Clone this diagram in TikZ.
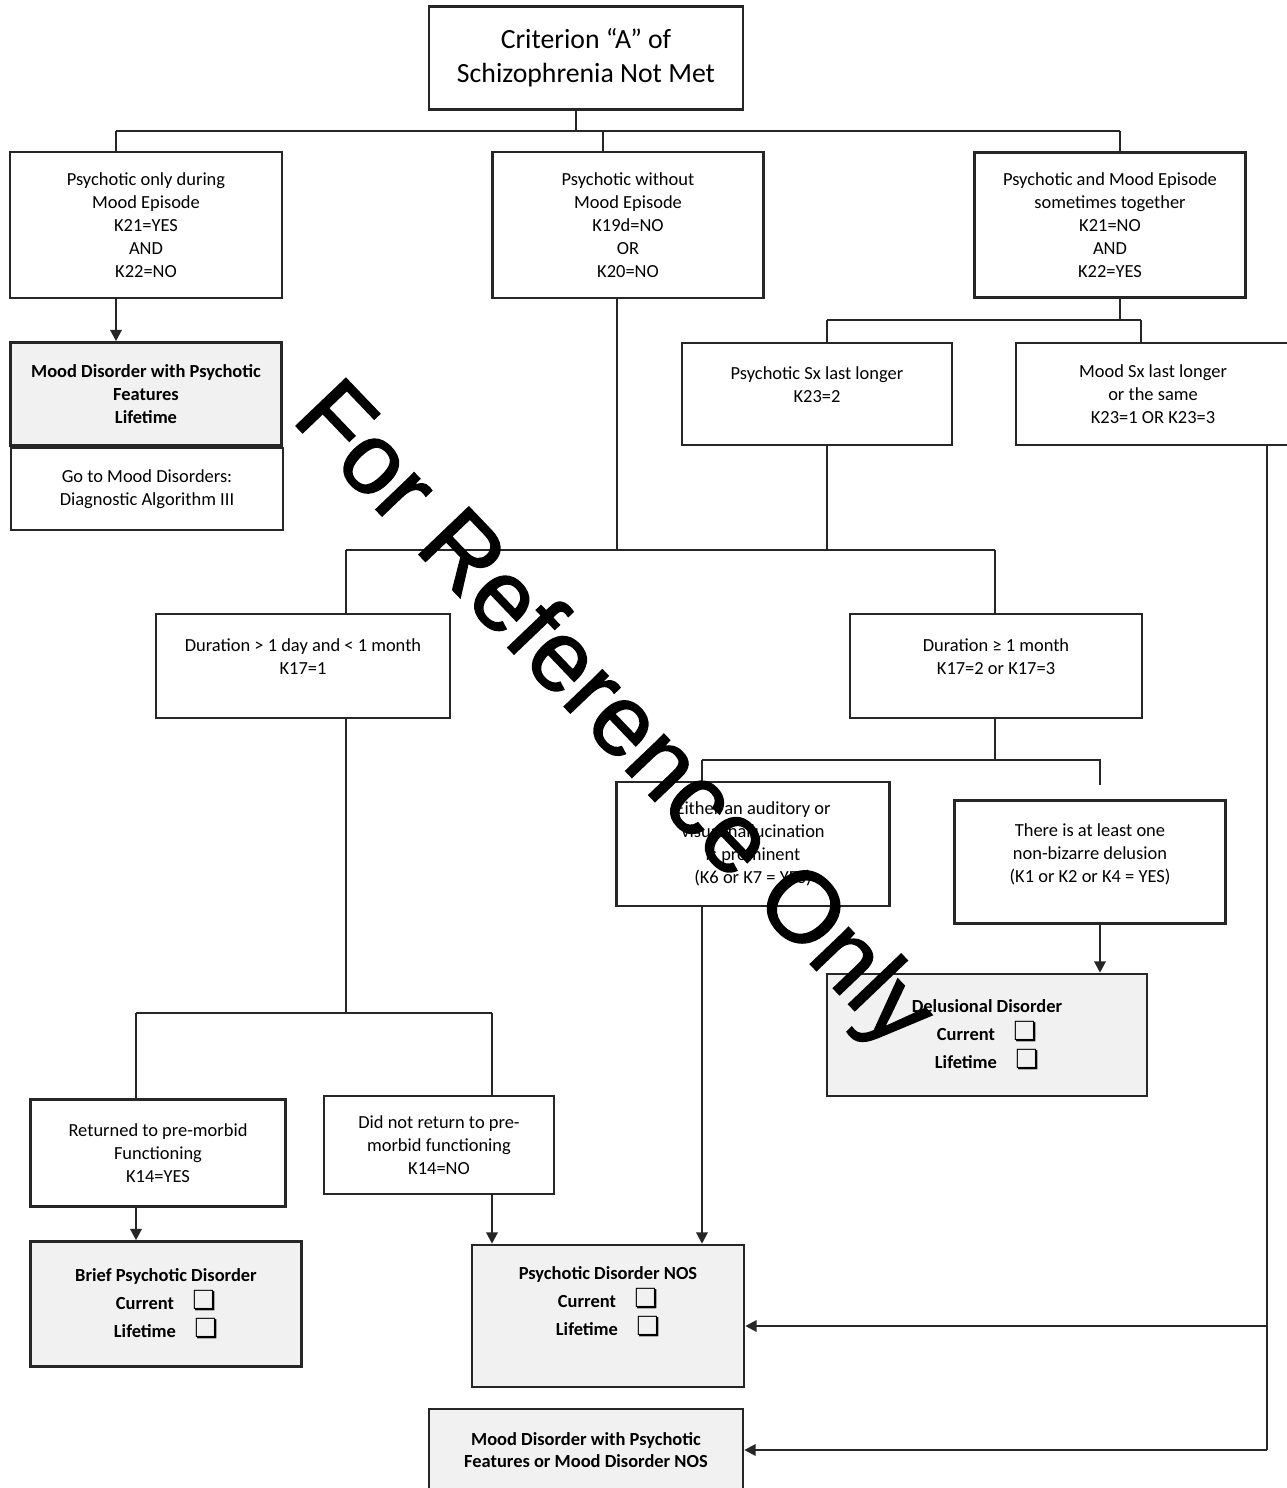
\documentclass[tikz,border=0pt]{standalone}
\usepackage{fontspec}
\setmainfont{Carlito}
\newfontfamily\symfont{DejaVu Sans}
\newfontfamily\wmfont[FakeBold=1.5]{Liberation Sans}
\usepackage{xcolor}
\usetikzlibrary{arrows.meta}
\definecolor{boxgray}{HTML}{F1F1F1}
\newcommand{\chkbox}{{\symfont\fontsize{15}{13}\selectfont ❏}}

\begin{document}
\begin{tikzpicture}[x=0.02cm, y=-0.02cm,
	box/.style={draw=black!85, line width=1.5pt, align=center, inner sep=2pt,
		font=\fontsize{10.5}{13}\selectfont},
	result/.style={box, fill=boxgray, font=\fontsize{10.5}{13}\selectfont\bfseries},
	link/.style={draw=black!85, line width=1.3pt},
	arr/.style={link, -{Triangle[width=6.5pt,length=6.5pt]}}]
	\path[use as bounding box, fill=white] (0,0) rectangle (1286,1488);

	% boxes
	\node[box, minimum width=6.28cm, minimum height=2.06cm, font=\fontsize{15.8}{19.3}\selectfont]
		(crit) at (586,58) {Criterion “A” of\\Schizophrenia Not Met};
	\node[box, minimum width=5.44cm, minimum height=2.92cm]
		(moodonly) at (146,225) {Psychotic only during\\Mood Episode\\K21=YES\\AND\\K22=NO};
	\node[box, minimum width=5.42cm, minimum height=2.92cm]
		(nomood) at (628,225) {Psychotic without\\Mood Episode\\K19d=NO\\OR\\K20=NO};
	\node[box, minimum width=5.42cm, minimum height=2.90cm]
		(together) at (1110,225) {Psychotic and Mood Episode\\sometimes together\\K21=NO\\AND\\K22=YES};
	\node[result, minimum width=5.42cm, minimum height=2.06cm]
		(mdpf) at (146,394) {Mood Disorder with Psychotic\\Features\\Lifetime};
	\node[box, minimum width=5.44cm, minimum height=1.64cm]
		(goto) at (147,489) {Go to Mood Disorders:\\Diagnostic Algorithm III};
	\node[box, minimum width=5.40cm, minimum height=2.04cm, text depth=11pt]
		(psylonger) at (817,394) {Psychotic Sx last longer\\K23=2};
	\node[box, minimum width=5.48cm, minimum height=2.04cm]
		(moodlonger) at (1153,394) {Mood Sx last longer\\or the same\\K23=1 OR K23=3};
	\node[box, minimum width=5.88cm, minimum height=2.08cm, text depth=11pt]
		(short) at (303,666) {Duration > 1 day and < 1 month\\K17=1};
	\node[box, minimum width=5.84cm, minimum height=2.08cm, text depth=11pt]
		(long) at (996,666) {Duration ≥ 1 month\\K17=2 or K17=3};
	\node[box, minimum width=5.46cm, minimum height=2.48cm]
		(halluc) at (753,844) {Either an auditory or\\visual hallucination\\is prominent\\(K6 or K7 = YES)};
	\node[box, minimum width=5.42cm, minimum height=2.46cm, text depth=10pt]
		(delus) at (1090,862) {There is at least one\\non-bizarre delusion\\(K1 or K2 or K4 = YES)};
	\node[result, minimum width=6.40cm, minimum height=2.44cm]
		(deldis) at (987,1035) {Delusional Disorder\\[3pt]Current\quad\chkbox\\[3pt]Lifetime\quad\chkbox};
	\node[box, minimum width=5.10cm, minimum height=2.14cm]
		(returned) at (158,1153) {Returned to pre-morbid\\Functioning\\K14=YES};
	\node[box, minimum width=4.60cm, minimum height=1.96cm]
		(notret) at (439,1145) {Did not return to pre-\\morbid functioning\\K14=NO};
	\node[result, minimum width=5.42cm, minimum height=2.50cm]
		(brief) at (166,1304) {Brief Psychotic Disorder\\[3pt]Current\quad\chkbox\\[3pt]Lifetime\quad\chkbox};
	\node[result, minimum width=5.44cm, minimum height=2.84cm, text depth=17pt]
		(nos) at (608,1316) {Psychotic Disorder NOS\\[3pt]Current\quad\chkbox\\[3pt]Lifetime\quad\chkbox};
	\node[result, minimum width=6.28cm, minimum height=1.64cm]
		(moodnos) at (586,1450) {Mood Disorder with Psychotic\\Features or Mood Disorder NOS};

	% top split
	\coordinate (j1) at (576,131);
	\coordinate (j1l) at (116,131);
	\coordinate (j1m) at (603,131);
	\coordinate (j1r) at (1120,131);
	\draw[link] (crit.south -| j1) -- (j1);
	\draw[link] (j1l) -- (j1r);
	\draw[link] (j1l) -- (j1l |- moodonly.north);
	\draw[link] (j1m) -- (j1m |- nomood.north);
	\draw[link] (j1r) -- (j1r |- together.north);
	\draw[arr] (moodonly.south -| j1l) -- (mdpf.north -| j1l);

	% mood and psychotic together
	\coordinate (j2l) at (827,320);
	\coordinate (j2r) at (1141,320);
	\draw[link] (together.south -| j1r) -- (j1r |- j2l);
	\draw[link] (j2l) -- (j2r);
	\draw[link] (j2l) -- (j2l |- psylonger.north);
	\draw[link] (j2r) -- (j2r |- moodlonger.north);

	% duration split
	\coordinate (j3l) at (346,550);
	\coordinate (j3b) at (617,550);
	\coordinate (j3r) at (995,550);
	\draw[link] (j3b |- nomood.south) -- (j3b);
	\draw[link] (psylonger.south -| j2l) -- (j2l |- j3l);
	\draw[link] (j3l) -- (j3r);
	\draw[link] (j3l) -- (j3l |- short.north);
	\draw[link] (j3r) -- (j3r |- long.north);

	% one month or more
	\coordinate (j4l) at (702,760);
	\coordinate (j4r) at (1100,760);
	\coordinate (j4e) at (1100,785);
	\draw[link] (long.south -| j3r) -- (j3r |- j4l);
	\draw[link] (j4l) -- (j4r) -- (j4e);
	\draw[link] (j4l) -- (j4l |- halluc.north);
	\draw[arr] (delus.south -| j4r) -- (deldis.north -| j4r);
	\draw[arr] (halluc.south -| j4l) -- (nos.north -| j4l);

	% less than one month
	\coordinate (j5l) at (136,1013);
	\coordinate (j5r) at (492,1013);
	\draw[link] (short.south -| j3l) -- (j3l |- j5l);
	\draw[link] (j5l) -- (j5r);
	\draw[link] (j5l) -- (j5l |- returned.north);
	\draw[link] (j5r) -- (j5r |- notret.north);
	\draw[arr] (returned.south -| j5l) -- (brief.north -| j5l);
	\draw[arr] (notret.south -| j5r) -- (nos.north -| j5r);

	% right side
	\coordinate (rn) at (1267,1326);
	\coordinate (rt) at (1267,1450);
	\draw[link] (moodlonger.south -| rt) -- (rt);
	\draw[arr] (rn) -- (rn -| nos.east);
	\draw[arr] (rt) -- (moodnos.east);

	\node[rotate=-46.3, font=\wmfont\fontsize{57}{57}\selectfont]
		(stamp) at (611,718) {For Reference Only};
\end{tikzpicture}
\end{document}
